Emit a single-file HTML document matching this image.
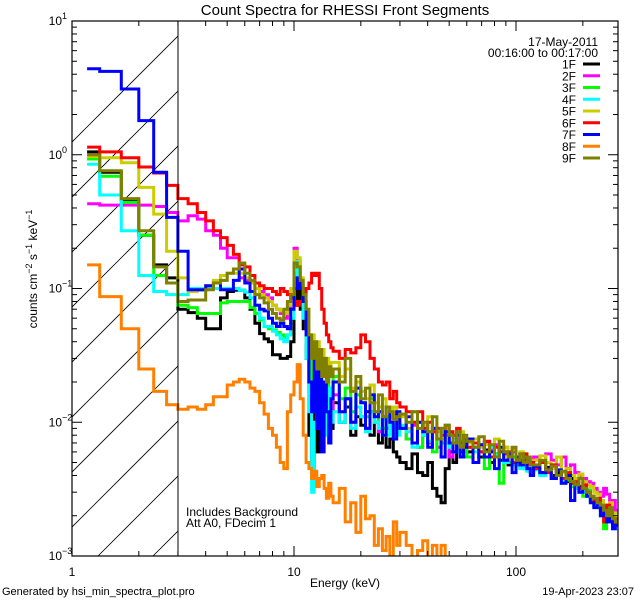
<!DOCTYPE html>
<html><head><meta charset="utf-8">
<style>
html,body{margin:0;padding:0;background:#fff;}
svg{display:block;}
text{font-family:"Liberation Sans",sans-serif;fill:#000;}
</style></head>
<body>
<svg id="chart" width="640" height="600" viewBox="0 0 640 600" xmlns="http://www.w3.org/2000/svg">
<defs><clipPath id="plotclip"><rect x="72" y="21" width="546" height="535"/></clipPath></defs>
<rect x="0" y="0" width="640" height="600" fill="#fff"/>
<text x="345" y="15" font-size="15" text-anchor="middle">Count Spectra for RHESSI Front Segments</text>
<g id="hatch" clip-path="url(#plotclip)"></g>
<g id="series" clip-path="url(#plotclip)"></g>
<line x1="178" y1="21" x2="178" y2="556" stroke="#000" stroke-width="1"/>
<rect x="72" y="21" width="546" height="535" fill="none" stroke="#000" stroke-width="1.2"/>
<g id="axes"></g>
<text x="598" y="46" font-size="12" text-anchor="end">17-May-2011</text>
<text x="598" y="57" font-size="12" text-anchor="end">00:16:00 to 00:17:00</text>
<g id="legend"></g>
<text x="186" y="516" font-size="12">Includes Background</text>
<text x="186" y="527" font-size="12">Att A0, FDecim 1</text>
<text x="345" y="587" font-size="12" text-anchor="middle">Energy (keV)</text>
<text transform="translate(37,269) rotate(-90)" font-size="12" text-anchor="middle">counts cm<tspan dy="-5" font-size="9">−2</tspan><tspan dy="5"> s</tspan><tspan dy="-5" font-size="9">−1</tspan><tspan dy="5"> keV</tspan><tspan dy="-5" font-size="9">−1</tspan></text>
<text x="2" y="595" font-size="11">Generated by hsi_min_spectra_plot.pro</text>
<text x="634" y="595" font-size="11" text-anchor="end">19-Apr-2023 23:07</text>
</svg>
<script>
// ---- data ----
const seriesNames = ["1F","2F","3F","4F","5F","6F","7F","8F","9F"];
const seriesColors = ["#000000","#ff00ff","#00ff00","#00ffff","#cccc00","#ff0000","#0000ff","#ff8000","#808000"];
const xTickValues = [1,10,100];
const xTickLabels = ["1","10","100"];
const yTickExponents = [1,0,-1,-2,-3];
// bin edges (keV)
const lowEdgeStep = 1/3;
const highEdges = [15,16,17,18,19,20,21,22,23,24,25,26,27,28,29,30,32,34,36,38,40,42,44,46,48,50,52,54,56,58,60,64,68,72,76,80,84,88,92,96,100,104,108,112,116,120,128,136,144,152,160,168,176,184,192,200,208,216,224,232,240,248,256,264,272,280,288];

const s1F = [1.05,0.74,0.45,0.25,0.15,0.12,0.07,0.066,0.06,0.05,0.05,0.085,0.095,0.097,0.097,0.085,0.07,0.055,0.046,0.042,0.04,0.032,0.032,0.03,0.03,0.031,0.04,0.075,0.1,0.07,0.05,0.03,0.008,0.0045,0.012,0.006,0.015,0.008,0.012,0.01,0.014,0.009,
0.014,0.01,0.013,0.008,0.011,0.0095,0.012,0.008,0.01,0.007,0.009,0.0065,0.0075,0.006,0.0055,
0.005,0.0045,0.0058,0.0042,0.004,0.005,0.0032,0.0028,0.0025,0.0045,0.006,0.005,0.0065,0.006,0.0055,
0.006,0.0065,0.0055,0.0062,0.005,0.0058,0.0052,0.006,0.0048,0.0055,0.005,0.0047,0.0052,0.0044,0.0046,
0.0045,0.0042,0.0046,0.004,0.0042,0.0038,0.0036,0.0038,0.0034,0.0033,0.003,0.0031,0.0028,0.0026,0.0025,0.0023,0.0022,0.002,0.0019,0.0018,0.0017];
const s2F = [0.43,0.42,0.42,0.42,0.41,0.37,0.32,0.35,0.33,0.27,0.25,0.2,0.17,0.17,0.12,0.115,0.11,0.1,0.095,0.09,0.085,0.075,0.07,0.065,0.06,0.07,0.09,0.2,0.16,0.1,0.06,0.04,0.02,0.012,0.022,0.01,0.018,0.012,0.02,0.014,0.018,0.012,
0.016,0.012,0.015,0.01,0.013,0.011,0.009,0.012,0.01,0.0085,0.011,0.009,0.0095,0.008,0.0085,
0.009,0.0075,0.0095,0.0065,0.008,0.007,0.0085,0.0065,0.0075,0.008,0.0055,0.0075,0.0065,0.007,0.006,
0.0065,0.0075,0.006,0.007,0.0062,0.0068,0.006,0.0065,0.0058,0.006,0.0055,0.0058,0.0055,0.0052,0.005,
0.0055,0.005,0.0058,0.0052,0.0048,0.0055,0.0045,0.0048,0.0042,0.004,0.0038,0.0036,0.0035,0.0032,0.003,0.0028,0.0032,0.0029,0.0024,0.0026,0.0022];
const s3F = [0.93,0.69,0.44,0.25,0.125,0.11,0.075,0.072,0.065,0.065,0.065,0.078,0.08,0.08,0.08,0.08,0.072,0.065,0.058,0.052,0.05,0.049,0.047,0.045,0.043,0.045,0.06,0.1,0.13,0.1,0.07,0.04,0.018,0.03,0.015,0.025,0.012,0.02,0.015,0.022,0.012,0.018,
0.022,0.015,0.018,0.012,0.016,0.014,0.011,0.015,0.01,0.012,0.009,0.011,0.0095,0.008,0.01,
0.009,0.0075,0.01,0.0065,0.008,0.0085,0.006,0.0075,0.007,0.0085,0.0065,0.0075,0.006,0.007,0.0065,
0.0055,0.007,0.006,0.0045,0.0065,0.0058,0.0035,0.006,0.005,0.0055,0.0048,0.0052,0.0045,0.005,0.0042,
0.0045,0.004,0.0042,0.0038,0.004,0.0035,0.0037,0.0033,0.0035,0.003,0.0028,0.0031,0.0026,0.0024,0.0025,0.002,0.0016,0.0021,0.0019,0.0017,0.0016];
const s4F = [0.85,0.5,0.27,0.125,0.095,0.09,0.09,0.1,0.1,0.1,0.1,0.1,0.1,0.1,0.097,0.094,0.085,0.075,0.06,0.052,0.052,0.048,0.045,0.042,0.04,0.045,0.06,0.12,0.16,0.11,0.06,0.03,0.012,0.003,0.01,0.02,0.009,0.015,0.008,0.012,0.018,0.01,
0.012,0.01,0.015,0.009,0.013,0.011,0.0085,0.012,0.01,0.009,0.0105,0.008,0.0095,0.009,0.008,
0.0095,0.0085,0.0065,0.01,0.008,0.0072,0.009,0.0075,0.0085,0.007,0.0065,0.0075,0.006,0.0072,0.007,
0.0065,0.006,0.0068,0.0055,0.0065,0.0057,0.006,0.005,0.0055,0.0048,0.0052,0.0045,0.005,0.0043,0.0046,
0.0044,0.004,0.0043,0.0038,0.004,0.0036,0.0038,0.0034,0.0032,0.0031,0.003,0.0029,0.0027,0.0025,0.0024,0.0022,0.002,0.0019,0.0018,0.0017,0.0016];
const s5F = [0.97,0.95,0.87,0.57,0.36,0.19,0.12,0.095,0.097,0.105,0.115,0.125,0.13,0.13,0.13,0.12,0.11,0.1,0.09,0.085,0.08,0.075,0.07,0.068,0.065,0.075,0.1,0.19,0.17,0.12,0.08,0.05,0.03,0.045,0.025,0.04,0.022,0.035,0.025,0.03,0.022,0.028,
0.028,0.022,0.025,0.018,0.02,0.017,0.015,0.019,0.014,0.013,0.015,0.012,0.011,0.013,0.01,
0.011,0.009,0.012,0.01,0.0095,0.011,0.009,0.0085,0.0075,0.009,0.0085,0.008,0.007,0.0085,0.0075,
0.007,0.0075,0.0065,0.0068,0.006,0.0075,0.0062,0.0065,0.0058,0.0062,0.0055,0.006,0.0058,0.0055,0.005,
0.0052,0.0056,0.005,0.0045,0.0055,0.0042,0.0045,0.004,0.0038,0.0041,0.0036,0.0034,0.0033,0.003,0.0029,0.0026,0.0024,0.0022,0.0025,0.002,0.0021];
const s6F = [1.14,1.05,0.95,0.81,0.73,0.59,0.47,0.43,0.37,0.32,0.27,0.24,0.21,0.18,0.15,0.145,0.125,0.11,0.105,0.1,0.1,0.095,0.09,0.1,0.095,0.09,0.085,0.08,0.075,0.08,0.09,0.1,0.11,0.13,0.125,0.13,0.1,0.07,0.055,0.045,0.04,0.036,
0.034,0.03,0.035,0.033,0.036,0.045,0.04,0.03,0.025,0.02,0.019,0.02,0.015,0.017,0.014,
0.013,0.012,0.01,0.012,0.009,0.01,0.0085,0.009,0.008,0.0095,0.0085,0.008,0.009,0.007,0.0075,
0.0065,0.007,0.006,0.0072,0.0055,0.0065,0.006,0.0058,0.006,0.005,0.0055,0.005,0.0058,0.0048,0.005,
0.0045,0.005,0.0042,0.0048,0.004,0.0038,0.0042,0.0035,0.0036,0.0032,0.0034,0.003,0.0028,0.0025,0.0027,0.0022,0.0018,0.0024,0.002,0.0017,0.0019];
const s7F = [4.4,4.2,3.1,1.8,0.74,0.34,0.19,0.098,0.098,0.105,0.11,0.098,0.098,0.115,0.14,0.11,0.095,0.075,0.07,0.068,0.06,0.055,0.052,0.055,0.052,0.05,0.07,0.1,0.12,0.1,0.08,0.045,0.02,0.012,0.03,0.009,0.025,0.006,0.02,0.012,0.007,0.015,
0.02,0.012,0.015,0.01,0.018,0.014,0.009,0.016,0.011,0.012,0.008,0.013,0.01,0.0075,0.012,
0.009,0.011,0.007,0.01,0.0085,0.0065,0.009,0.0075,0.0055,0.0085,0.007,0.006,0.008,0.0055,0.0065,
0.0075,0.005,0.0068,0.0055,0.006,0.0045,0.0065,0.0052,0.0058,0.0042,0.0055,0.0048,0.0052,0.0045,0.004,
0.0047,0.0042,0.0045,0.0038,0.0044,0.0035,0.004,0.0026,0.0034,0.003,0.0032,0.0028,0.0025,0.0023,0.0025,0.002,0.0022,0.0018,0.0021,0.0016,0.0017];
const s8F = [0.15,0.087,0.05,0.025,0.017,0.0135,0.0125,0.013,0.0125,0.0135,0.0155,0.0155,0.019,0.02,0.021,0.02,0.018,0.017,0.014,0.0115,0.009,0.008,0.0065,0.005,0.0045,0.012,0.016,0.02,0.027,0.015,0.008,0.005,0.0045,0.0038,0.0043,0.0033,0.0038,0.004,0.0032,0.0027,0.0035,0.0028,
0.0025,0.0032,0.0018,0.0025,0.0015,0.0028,0.0019,0.002,0.0012,0.0016,0.0011,0.0014,0.0009,0.0018,0.0012,
0.0015,0.0012,0.0009,0.0011,0.0013,0.0008,0.0012,0.0009,0.0012,0.0008,0.0007,0.0006,0.0005,0.0006,0.0005,
0.0005,0.0006,0.0005,0.0009,0.0006,0.0005,0.0004,0.0005,0.0004,0.0004,0.0004,0.0004,0.0004,0.0004,0.0004,
0.0004,0.0004,0.0004,0.0004,0.0004,0.0004,0.0004,0.0004,0.0004,0.0004,0.0004,0.0004,0.0004,0.0004,0.0004,0.0004,0.0004,0.0004,0.0004,0.0004,0.0004];
const s9F = [1.0,0.76,0.47,0.27,0.145,0.11,0.08,0.082,0.082,0.098,0.11,0.115,0.13,0.14,0.155,0.13,0.115,0.09,0.085,0.078,0.07,0.065,0.06,0.058,0.07,0.08,0.09,0.155,0.145,0.115,0.09,0.07,0.045,0.03,0.04,0.025,0.035,0.022,0.03,0.02,0.026,0.022,
0.025,0.02,0.03,0.017,0.022,0.015,0.018,0.014,0.012,0.016,0.011,0.013,0.012,0.0105,0.011,
0.0115,0.01,0.012,0.009,0.01,0.0085,0.011,0.0075,0.009,0.0095,0.008,0.007,0.0085,0.0065,0.008,
0.0072,0.0065,0.0078,0.006,0.0068,0.0055,0.0072,0.006,0.0055,0.0065,0.0052,0.0058,0.005,0.0055,0.0048,
0.0048,0.0052,0.0044,0.0047,0.004,0.0043,0.0038,0.0036,0.0034,0.0038,0.0032,0.003,0.0028,0.0027,0.0025,0.0024,0.0022,0.002,0.0023,0.0019,0.0018];
const seriesValues = [s1F,s2F,s3F,s4F,s5F,s6F,s7F,s8F,s9F];

// ---- scales ----
const X0=72, X1=618, Y0=21, Y1=556;
const XMIN=1, XMAX=288, YMAXEXP=1, YMINEXP=-3;
function xs(e){return X0+(X1-X0)*Math.log10(e/XMIN)/Math.log10(XMAX/XMIN);}
function ys(v){return Y0+(Y1-Y0)*(YMAXEXP-Math.log10(v))/(YMAXEXP-YMINEXP);}
const NS="http://www.w3.org/2000/svg";
function mk(tag,attrs,parent){const el=document.createElementNS(NS,tag);for(const k in attrs)el.setAttribute(k,attrs[k]);parent.appendChild(el);return el;}

// edges
const edges=[];
for(let i=0;i<=42;i++){edges.push(1+i*lowEdgeStep);}
edges[0]=1.17;
for(let i=1;i<highEdges.length;i++){edges.push(highEdges[i]);}

// hatch
const hatch=document.getElementById('hatch');
for(let k=-8;k<=4;k++){
  const c=654+55*k;
  const ln=mk('line',{x1:c-Y1+ -0,y1:Y1,x2:c-Y0,y2:Y0,stroke:'#000','stroke-width':0.8},hatch);
  
  
}
document.getElementById('hatch').setAttribute('clip-path','url(#hatchclip)');
const defs=document.querySelector('defs');
const hc=mk('clipPath',{id:'hatchclip'},defs);
mk('rect',{x:72,y:21,width:106,height:535},hc);

// series
const sg=document.getElementById('series');
seriesValues.forEach((vals,si)=>{
  let d='';
  for(let i=0;i<vals.length;i++){
    const xa=xs(edges[i]).toFixed(1), xb=xs(edges[i+1]).toFixed(1);
    const y=Math.min(ys(vals[i]),Y1+20).toFixed(1);
    d+=(i===0?'M':'L')+xa+','+y+'L'+xb+','+y;
  }
  const p=mk('path',{d:d,fill:'none',stroke:seriesColors[si],'stroke-width':3,'stroke-linejoin':'miter'},sg);
  
  
});

// axes ticks
const ax=document.getElementById('axes');


function tick(x1,y1,x2,y2){mk('line',{x1:x1,y1:y1,x2:x2,y2:y2,stroke:'#000','stroke-width':1},ax);}
for(let dec=1;dec<=100;dec*=10){
  for(let m=1;m<=9;m++){
    const e=dec*m; if(e>XMAX) break;
    const x=xs(e), L=(m===1)?10:5;
    tick(x,Y1,x,Y1-L); tick(x,Y0,x,Y0+L);
  }
}
xTickValues.forEach((v,i)=>{
  const t=mk('text',{x:xs(v),y:576,'font-size':12,'text-anchor':'middle'},ax);
  t.textContent=xTickLabels[i];
  
  
});
for(let ex=YMINEXP;ex<=YMAXEXP;ex++){
  for(let m=1;m<=9;m++){
    const v=m*Math.pow(10,ex); if(v>Math.pow(10,YMAXEXP)+1e-9) break;
    const y=ys(v), L=(m===1)?10:5;
    tick(X0,y,X0+L,y); tick(X1,y,X1-L,y);
  }
}
yTickExponents.forEach(ex=>{
  const t=mk('text',{x:62,y:ys(Math.pow(10,ex))+4,'font-size':12,'text-anchor':'end'},ax);
  
  
  t.textContent='10';
  const sup=mk('tspan',{x:62,dy:-6,'font-size':9,'text-anchor':'start'},t);
  sup.textContent=(ex<0?'\u2212':'')+Math.abs(ex);
});

// legend
const lg=document.getElementById('legend');
seriesNames.forEach((n,i)=>{
  const y=64+i*11.75;
  const t=mk('text',{x:576,y:y+4.5,'font-size':12,'text-anchor':'end'},lg);
  t.textContent=n;
  
  
  const l=mk('line',{x1:583,y1:y,x2:600,y2:y,stroke:seriesColors[i],'stroke-width':3},lg);
  
  
});
</script>
</body></html>
